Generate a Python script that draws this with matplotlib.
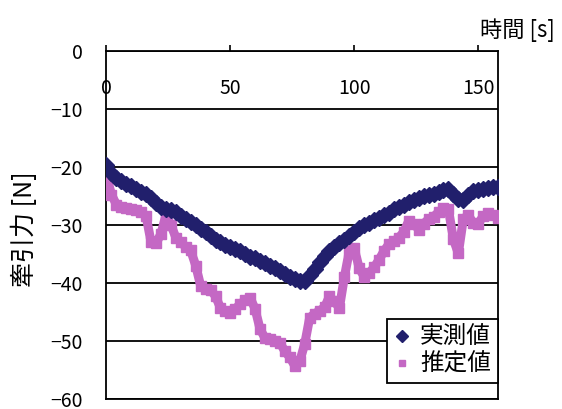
import matplotlib
matplotlib.use("Agg")
import matplotlib.pyplot as plt
from matplotlib.lines import Line2D

plt.rcParams["font.family"] = ["Noto Sans CJK JP", "DejaVu Sans"]

# 時刻 [s]（2秒刻み）
t = list(range(0, 160, 2))

# 実測値 [N]
measured = [
    -19.7, -21.0, -21.9, -22.5, -23.0, -23.3, -23.8, -24.3, -24.7, -25.3,
    -26.3, -27.0, -27.2, -27.4, -27.8, -28.4, -29.0, -29.5, -30.1, -30.7,
    -31.3, -32.0, -32.6, -33.0, -33.4, -33.8, -34.2, -34.5, -35.0, -35.5,
    -35.7, -36.2, -36.6, -37.1, -37.4, -38.0, -38.5, -38.9, -39.3, -39.6,
    -39.6, -38.6, -37.6, -36.4, -35.4, -34.5, -33.8, -33.2, -32.6, -32.0,
    -31.3, -30.6, -30.1, -29.6, -29.2, -28.8, -28.3, -27.9, -27.3, -26.9,
    -26.5, -26.1, -25.7, -25.4, -25.1, -24.8, -24.6, -24.3, -24.0, -23.8,
    -24.6, -25.5, -25.8, -24.8, -24.2, -24.0, -23.8, -23.6, -23.4, -23.5,
]

# 推定値 [N]
estimated = [
    -21.5, -24.8, -26.5, -27.0, -27.1, -27.3, -27.4, -27.8, -28.5, -33.0,
    -33.2, -31.5, -28.3, -30.0, -32.2, -33.0, -33.8, -34.4, -37.0, -40.5,
    -41.1, -41.2, -42.3, -44.3, -44.8, -45.1, -44.5, -43.6, -43.0, -42.6,
    -44.5, -48.0, -49.5, -49.7, -50.0, -50.3, -51.8, -52.8, -54.3, -53.5,
    -50.5, -46.0, -45.3, -44.8, -44.2, -42.3, -43.2, -44.3, -39.0, -34.5,
    -34.0, -37.5, -38.9, -38.3, -37.3, -36.0, -34.5, -33.3, -32.8, -32.2,
    -31.2, -29.3, -29.8, -30.8, -29.8, -29.0, -28.6, -27.8, -27.1, -27.3,
    -32.5, -34.9, -29.0, -28.3, -29.7, -29.8, -28.5, -28.0, -28.3, -28.8,
]

labels = ["実測値", "推定値"]
x_ticks = [0, 50, 100, 150]
y_ticks = [0, -10, -20, -30, -40, -50, -60]

navy = "#211F6C"
pink = "#C468C4"

fig = plt.figure(figsize=(5.62, 4.09), dpi=100)
ax = fig.add_axes([0.1895, 0.0244, 0.6966, 0.8516])

# 点が密に並ぶので太線＋マーカーで帯状に描く
ax.plot(t, estimated, color=pink, marker="s", markersize=6.5, linewidth=6.5,
        zorder=3)
ax.plot(t, measured, color=navy, marker="D", markersize=8, linewidth=7,
        zorder=4)

ax.set_xlim(0, 158)
ax.set_ylim(-60, 0)
ax.set_xticks(x_ticks)
ax.set_yticks(y_ticks)

# 横軸は y=0（上端）に置き、目盛ラベルは線の下側に描く
ax.tick_params(axis="x", top=True, bottom=False, labeltop=True, labelbottom=False,
               direction="out", length=4.5, width=1.2, pad=-39, labelsize=14)
ax.tick_params(axis="y", left=False, length=0, pad=17, labelsize=14)

ax.grid(axis="y", color="black", linewidth=1.3)
for side in ax.spines.values():
    side.set_color("black")
    side.set_linewidth(1.3)

ax.set_ylabel("牽引力 [N]", fontsize=18)
ax.yaxis.set_label_coords(-0.208, 0.488)
ax.yaxis.label.set_va("center")

ax.xaxis.set_label_position("top")
ax.set_xlabel("時間 [s]", fontsize=16)
ax.xaxis.set_label_coords(1.05, 1.059)
ax.xaxis.label.set_va("center")

handles = [
    Line2D([], [], color=navy, marker="D", markersize=6, linestyle="none"),
    Line2D([], [], color=pink, marker="s", markersize=5, linestyle="none"),
]
leg = ax.legend(handles, labels, loc="lower right", bbox_to_anchor=(1.0, 0.046),
                borderaxespad=0, fontsize=17, fancybox=False, framealpha=1,
                edgecolor="black", handlelength=0.7, handletextpad=0.4,
                borderpad=0.3, labelspacing=0.15)
leg.get_frame().set_linewidth(1.3)

fig.savefig("out.png", dpi=100)
